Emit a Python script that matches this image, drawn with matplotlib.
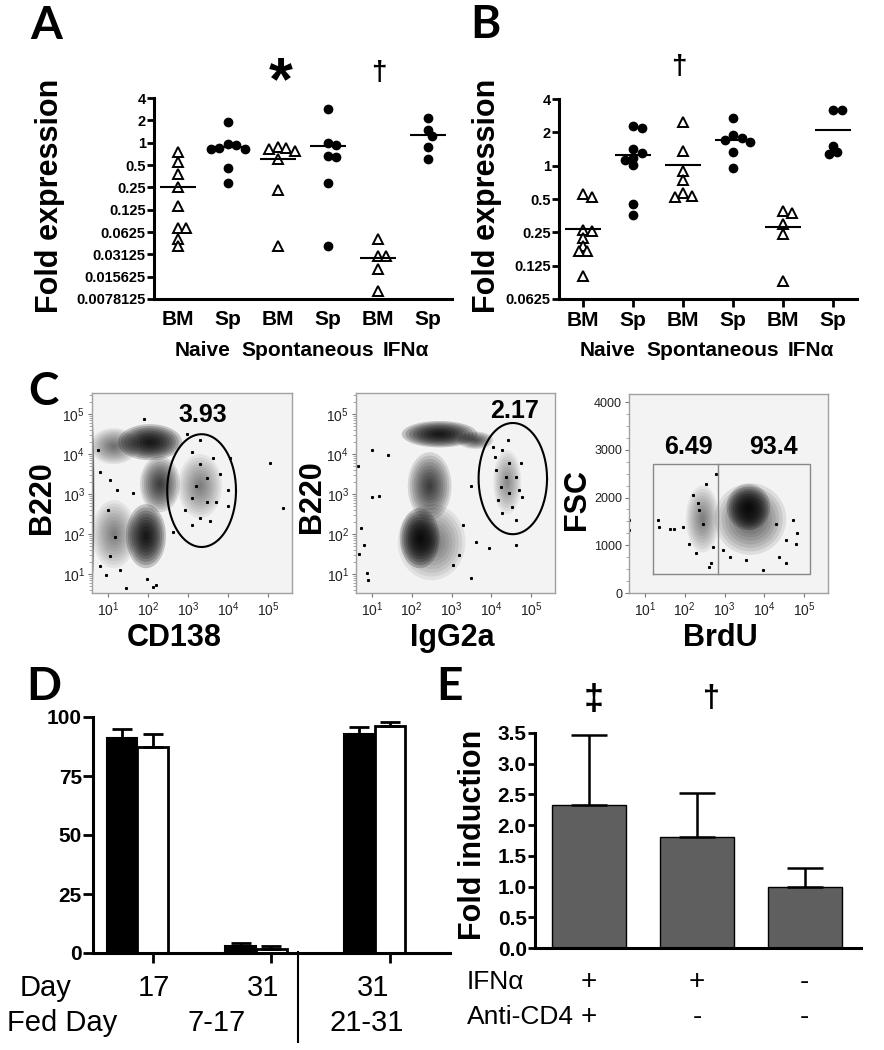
import numpy as np
import matplotlib
matplotlib.use("Agg")
import matplotlib.pyplot as plt
from matplotlib.lines import Line2D
from matplotlib.ticker import FuncFormatter, FormatStrFormatter, NullLocator

plt.rcParams["font.family"] = ["Liberation Sans", "DejaVu Sans"]
plt.rcParams["mathtext.fontset"] = "custom"
plt.rcParams["mathtext.rm"] = "Liberation Sans"
plt.rcParams["mathtext.it"] = "Liberation Sans:italic"
plt.rcParams["mathtext.bf"] = "Liberation Sans:bold"

W, H = 884, 1050

# ---------------- data ----------------
# panels A / B : fold expression, one list per group
cat_labels = ["BM", "Sp", "BM", "Sp", "BM", "Sp"]
cat_marker = ["^", "o", "^", "o", "^", "o"]
group_names = ["Naive", "Spontaneous", "IFN\u03b1"]

a_vals = [
    [0.75, 0.55, 0.38, 0.25, 0.14, 0.071, 0.071, 0.050, 0.040],
    [1.89, 0.95, 0.92, 0.85, 0.82, 0.82, 0.46, 0.29],
    [0.88, 0.84, 0.81, 0.77, 0.61, 0.233, 0.041],
    [2.84, 0.98, 0.93, 0.66, 0.65, 0.29, 0.041],
    [0.050, 0.030, 0.030, 0.020, 0.010],
    [2.14, 1.46, 1.23, 0.87, 0.61],
]
b_vals = [
    [0.55, 0.52, 0.26, 0.255, 0.22, 0.19, 0.17, 0.17, 0.10],
    [2.26, 2.19, 1.41, 1.30, 1.17, 1.13, 1.01, 0.45, 0.36],
    [2.46, 1.37, 0.90, 0.74, 0.57, 0.53, 0.52],
    [2.69, 1.90, 1.77, 1.71, 1.65, 1.32, 0.96],
    [0.39, 0.37, 0.30, 0.24, 0.090],
    [3.16, 3.16, 1.51, 1.34, 1.28],
]

# panel C : flow plots (log10 units); populations = (x, y, rx, ry, density)
cd138_pops = [(2.05, 4.30, 0.80, 0.45, 1.0), (1.15, 4.20, 0.60, 0.45, 0.35),
              (2.30, 3.25, 0.50, 0.70, 0.6), (1.95, 1.95, 0.50, 0.80, 1.0),
              (1.15, 2.00, 0.55, 0.85, 0.3), (3.30, 3.20, 0.55, 0.80, 0.3),
              (0.63, 2.80, 0.03, 1.95, 0.9)]
cd138_x = [5.05, 5.37, 1.90, 0.95, 0.80, 1.01, 1.18, 0.76, 1.45, 2.13, 2.20, 4.05,
           4.00, 3.70, 3.30, 2.97, 3.10, 3.55, 2.63, 1.63, 1.22, 1.05, 0.80, 1.05,
           1.30, 1.97, 3.30, 3.47, 3.10, 2.93, 3.80, 3.47, 3.20, 3.30, 3.63, 3.10, 4.00]
cd138_y = [3.77, 2.65, 4.87, 0.98, 3.56, 2.60, 1.94, 4.10, 0.65, 0.69, 0.74, 3.90,
           3.10, 2.80, 4.35, 4.50, 2.24, 2.33, 2.06, 3.02, 3.10, 3.35, 1.20, 1.45,
           1.10, 0.88, 3.75, 3.40, 2.90, 2.60, 3.50, 2.80, 3.20, 2.40, 3.90, 4.05, 2.70]
cd138_gate = (3.34, 3.09, 0.86, 1.41)
cd138_pct = "3.93"

igg_pops = [(2.70, 4.50, 0.95, 0.33, 1.0), (3.60, 4.35, 0.45, 0.22, 0.5),
            (2.45, 3.20, 0.55, 0.85, 0.6), (2.20, 1.90, 0.50, 0.75, 1.0),
            (2.50, 1.80, 0.85, 0.95, 0.35), (4.40, 3.30, 0.35, 0.80, 0.25)]
igg_x = [0.99, 1.41, 0.99, 1.18, 0.66, 0.88, 0.90, 0.72, 0.80, 0.68, 3.49, 3.03,
         3.20, 3.95, 4.62, 3.62, 3.28, 3.49, 4.03, 4.28, 4.45, 4.12, 4.37, 4.62,
         4.24, 4.45, 4.70, 4.16, 4.53, 4.28, 4.62, 4.78, 4.08, 4.41, 4.74]
igg_y = [4.10, 3.98, 2.94, 2.95, 3.70, 1.02, 0.86, 2.15, 1.73, 1.50, 0.90, 1.23,
         1.48, 1.65, 1.73, 1.80, 2.23, 3.20, 4.19, 4.10, 3.77, 3.60, 3.43, 3.43,
         3.18, 3.02, 3.10, 2.85, 2.68, 2.52, 2.35, 2.93, 3.93, 4.35, 3.77]
igg_gate = (4.54, 3.39, 0.86, 1.39)
igg_pct = "2.17"

brdu_pops = [(3.65, 1550, 0.90, 750, 0.45), (2.45, 1550, 0.42, 700, 0.3),
             (3.60, 1800, 0.55, 480, 1.0)]
brdu_x = [1.33, 1.35, 1.62, 1.72, 1.96, 0.61, 0.61, 2.21, 2.33, 2.54, 2.45, 2.12,
          2.28, 2.66, 2.70, 2.37, 2.79, 2.62, 4.54, 4.79, 4.83, 4.71, 4.37, 3.96,
          3.54, 3.13, 2.96, 4.54, 4.29]
brdu_fsc = [1529, 1375, 1333, 1347, 1375, 1529, 1320, 2052, 1878, 2290, 1452, 1037,
            828, 620, 970, 1738, 2500, 551, 620, 1037, 1250, 1529, 760, 481,
            690, 760, 900, 1110, 1452]
brdu_gate_x = [1.2, 2.83, 5.15]
brdu_gate_y = [400, 2700]
brdu_pct = ["6.49", "93.4"]

# panel D : % of cells
d_day = ["17", "31", "31"]
d_fed = ["7-17", "21-31"]
d_black = [91.0, 3.0, 93.0]
d_black_err = [4.0, 1.1, 2.7]
d_white = [87.3, 1.8, 96.0]
d_white_err = [5.5, 1.2, 1.9]

# panel E : fold induction
e_vals = [2.33, 1.80, 1.00]
e_err = [1.14, 0.72, 0.31]
e_ifn = ["+", "+", "-"]
e_cd4 = ["+", "-", "-"]


def box(x0, y0, x1, y1):  # pixel box -> figure fraction
    return [x0 / W, 1 - y1 / H, (x1 - x0) / W, (y1 - y0) / H]


def ftext(x, y, s, **kw):
    kw.setdefault("ha", "center")
    kw.setdefault("va", "center")
    fig.text(x / W, 1 - y / H, s, **kw)


fig = plt.figure(figsize=(W / 100, H / 100), dpi=100)


def swarm_x(ax, xc, vals, d):
    # spread overlapping points sideways (beeswarm like)
    tr = ax.transData
    px0 = tr.transform((xc, 1))[0]
    placed, out = [], []
    for v in vals:
        py = tr.transform((xc, v))[1]
        for k in [0, 1, -1, 2, -2, 3, -3, 4, -4]:
            px = px0 + k * d * 0.5
            if all((px - qx) ** 2 + (py - qy) ** 2 >= (0.8 * d) ** 2 for qx, qy in placed):
                break
        placed.append((px, py))
        out.append(tr.inverted().transform((px, py))[0])
    return out


def dot_panel(rect, vals, ymin, xticks_on):
    ax = fig.add_axes(box(*rect))
    ax.set_yscale("log", base=2)
    ax.set_ylim(ymin, 4)
    ax.set_xlim(0.52, 6.48)
    for s in ["top", "right"]:
        ax.spines[s].set_visible(False)
    for s in ["left", "bottom"]:
        ax.spines[s].set_linewidth(2.2)
    ticks = [2.0 ** k for k in range(int(np.log2(ymin)), 3)]
    ax.set_yticks(ticks)
    ax.yaxis.set_minor_locator(NullLocator())
    ax.yaxis.set_major_formatter(FuncFormatter(lambda v, _: f"{v:g}"))
    ax.tick_params(axis="y", length=5, width=2, pad=1, labelsize=10.5)
    ax.set_xticks(range(1, 7), cat_labels, fontweight="bold", fontsize=15)
    ax.tick_params(axis="x", length=6 if xticks_on else 0, width=2,
                   pad=3 if xticks_on else 8)
    for lab in ax.get_yticklabels():
        lab.set_fontweight("bold")
    for i, v in enumerate(vals):
        xs = swarm_x(ax, i + 1, v, 8.5)
        if cat_marker[i] == "o":
            ax.plot(xs, v, ls="none", marker="o", ms=6, mfc="black", mec="black",
                    clip_on=False)
        else:
            ax.plot(xs, v, ls="none", marker="^", ms=6.5, mfc="white", mec="black",
                    mew=1.4, clip_on=False, zorder=3)
        ax.hlines(np.mean(v), i + 1 - 0.36, i + 1 + 0.36, color="black", lw=1.5,
                  zorder=4)
    for name, xp in zip(group_names, [1.5, 3.6, 5.55]):
        ax.text(xp, -0.255, name, transform=ax.get_xaxis_transform(),
                ha="center", va="center", fontsize=15, fontweight="bold")
    return ax


dot_panel((154, 98, 452, 299), a_vals, 2.0 ** -7, False)
dot_panel((559, 99, 857, 299), b_vals, 2.0 ** -4, True)

ftext(50, 196, "Fold expression", rotation=90, fontsize=22, fontweight="bold")
ftext(487, 196, "Fold expression", rotation=90, fontsize=22, fontweight="bold")
ftext(281, 84, "*", fontsize=44, fontweight="bold")
ftext(379, 73, "\u2020", fontsize=20, fontweight="bold")
ftext(679, 67, "\u2020", fontsize=20, fontweight="bold")


# ---------------- panel C ----------------
def facs_axes(rect, ylog=True):
    ax = fig.add_axes(box(*rect))
    ax.set_facecolor("#f3f3f3")
    for s in ax.spines.values():
        s.set_color("#a0a0a0")
        s.set_linewidth(1)
    ax.set_xscale("log")
    ax.set_xlim(10 ** 0.6, 10 ** 5.6)
    ax.set_xticks([10.0 ** k for k in range(1, 6)])
    if ylog:
        ax.set_yscale("log")
        ax.set_ylim(10 ** 0.53, 10 ** 5.53)
        ax.set_yticks([10.0 ** k for k in range(1, 6)])
    ax.tick_params(which="major", direction="out", length=3, color="#777777",
                   labelsize=10, labelcolor="#222222", pad=2)
    ax.tick_params(which="minor", direction="out", length=2, color="#999999")
    return ax


def draw_pops(ax, pops, ylog=True):
    # each population as a soft stack of shrinking ellipses
    t = np.linspace(0, 2 * np.pi, 80)
    for cx, cy, rx, ry, dens in pops:
        for sc in np.linspace(1.0, 0.12, 10):
            xs = 10 ** (cx + sc * rx * np.cos(t))
            ys = cy + sc * ry * np.sin(t)
            ys = 10 ** ys if ylog else ys
            ax.fill(xs, ys, color="black", alpha=0.2 * dens, lw=0)


def draw_gate_ellipse(ax, gate):
    cx, cy, rx, ry = gate
    t = np.linspace(0, 2 * np.pi, 200)
    ax.plot(10 ** (cx + rx * np.cos(t)), 10 ** (cy + ry * np.sin(t)), color="black",
            lw=1.5)


ax1 = facs_axes((92, 393, 292, 593))
draw_pops(ax1, cd138_pops)
ax1.plot(10 ** np.array(cd138_x), 10 ** np.array(cd138_y), ls="none", marker="s",
         ms=1.2, color="black")
draw_gate_ellipse(ax1, cd138_gate)

ax2 = facs_axes((356, 393, 555, 593))
draw_pops(ax2, igg_pops)
ax2.plot(10 ** np.array(igg_x), 10 ** np.array(igg_y), ls="none", marker="s",
         ms=1.2, color="black")
draw_gate_ellipse(ax2, igg_gate)

ax3 = facs_axes((629, 394, 828, 593), ylog=False)
ax3.set_ylim(0, 4170)
ax3.set_yticks([0, 1000, 2000, 3000, 4000])
ax3.set_yticks(np.arange(0, 4200, 250), minor=True)
ax3.tick_params(axis="y", labelsize=9)
draw_pops(ax3, brdu_pops, ylog=False)
ax3.plot(10 ** np.array(brdu_x), brdu_fsc, ls="none", marker="s", ms=1.2,
         color="black")
gx = [10 ** g for g in brdu_gate_x]
ax3.plot([gx[0], gx[2], gx[2], gx[0], gx[0]],
         [brdu_gate_y[0], brdu_gate_y[0], brdu_gate_y[1], brdu_gate_y[1],
          brdu_gate_y[0]], color="#888888", lw=1)
ax3.plot([gx[1], gx[1]], brdu_gate_y, color="#888888", lw=1)

ftext(203, 415, cd138_pct, fontsize=18, fontweight="bold")
ftext(515, 411, igg_pct, fontsize=18, fontweight="bold")
ftext(688, 447, brdu_pct[0], fontsize=18, fontweight="bold")
ftext(773, 447, brdu_pct[1], fontsize=18, fontweight="bold")
ftext(42, 498, "B220", rotation=90, fontsize=22, fontweight="bold")
ftext(312, 497, "B220", rotation=90, fontsize=22, fontweight="bold")
ftext(577, 500, "FSC", rotation=90, fontsize=22, fontweight="bold")
ftext(174, 638, "CD138", fontsize=22, fontweight="bold")
ftext(452, 638, "IgG2a", fontsize=22, fontweight="bold")
ftext(720, 638, "BrdU", fontsize=22, fontweight="bold")

# ---------------- panel D ----------------
axD = fig.add_axes(box(93, 717, 450, 953))
xd = np.arange(len(d_black))
bw = 0.26
axD.bar(xd - bw / 2, d_black, bw, color="black", edgecolor="black", lw=1.5)
axD.bar(xd + bw / 2, d_white, bw, color="white", edgecolor="black", lw=2)
axD.errorbar(xd - bw / 2, d_black, yerr=[np.zeros(3), d_black_err], fmt="none",
             ecolor="black", elinewidth=2, capsize=7, capthick=2)
axD.errorbar(xd + bw / 2, d_white, yerr=[np.zeros(3), d_white_err], fmt="none",
             ecolor="black", elinewidth=2, capsize=7, capthick=2)
axD.set_xlim(-0.3755, 2.637)
axD.set_ylim(0, 100)
axD.set_yticks([0, 25, 50, 75, 100])
axD.set_xticks(xd + bw / 2, [""] * 3)
for s in ["top", "right"]:
    axD.spines[s].set_visible(False)
for s in ["left", "bottom"]:
    axD.spines[s].set_linewidth(2.2)
axD.tick_params(length=7, width=2, pad=1)
axD.tick_params(axis="y", labelsize=15)
for lab in axD.get_yticklabels():
    lab.set_fontweight("bold")

ftext(20, 988, "Day", fontsize=21, ha="left")
ftext(7, 1023, "Fed Day", fontsize=21, ha="left")
for s, xp in zip(d_day, [154, 263, 373]):
    ftext(xp, 988, s, fontsize=21)
for s, xp in zip(d_fed, [217, 367]):
    ftext(xp, 1023, s, fontsize=21)
fig.add_artist(Line2D([298 / W, 298 / W], [1 - 952 / H, 1 - 1042 / H],
                      color="black", lw=1.5))

# ---------------- panel E ----------------
axE = fig.add_axes(box(535, 733, 861, 948))
xe = np.arange(len(e_vals))
axE.bar(xe, e_vals, 0.68, color="#5f5f5f", edgecolor="black", lw=1)
axE.errorbar(xe, e_vals, yerr=[np.zeros(3), e_err], fmt="none", ecolor="black",
             elinewidth=1.8, capsize=13, capthick=1.8)
axE.set_xlim(-0.5, 2.52)
axE.set_ylim(0, 3.5)
axE.set_yticks(np.arange(0, 3.51, 0.5))
axE.yaxis.set_major_formatter(FormatStrFormatter("%.1f"))
axE.set_xticks([])
for s in ["top", "right"]:
    axE.spines[s].set_visible(False)
for s in ["left", "bottom"]:
    axE.spines[s].set_linewidth(2.2)
axE.tick_params(axis="y", length=5, width=2, pad=1, labelsize=15)
for lab in axE.get_yticklabels():
    lab.set_fontweight("bold")
for i in range(3):
    axE.text(i, -0.158, e_ifn[i], transform=axE.get_xaxis_transform(),
             ha="center", va="center", fontsize=20)
    axE.text(i, -0.321, e_cd4[i], transform=axE.get_xaxis_transform(),
             ha="center", va="center", fontsize=20)
ftext(467, 982, "IFN\u03b1", fontsize=19, ha="left")
ftext(467, 1017, "Anti-CD4", fontsize=19, ha="left")
ftext(473, 835, "Fold induction", rotation=90, fontsize=22, fontweight="bold")
ftext(594, 701, "\u2021", fontsize=26, fontweight="bold")
ftext(711, 699, "\u2020", fontsize=22, fontweight="bold")

# panel letters
for s, xp, yp in [("A", 46, 26), ("B", 485, 25), ("C", 43, 392), ("D", 44, 687),
                  ("E", 449, 687)]:
    fig.text(xp / W, 1 - yp / H, s, fontsize=33, fontweight="bold",
             family=["Lato", "DejaVu Sans"], ha="center", va="center")

fig.savefig("out.png", dpi=100)
